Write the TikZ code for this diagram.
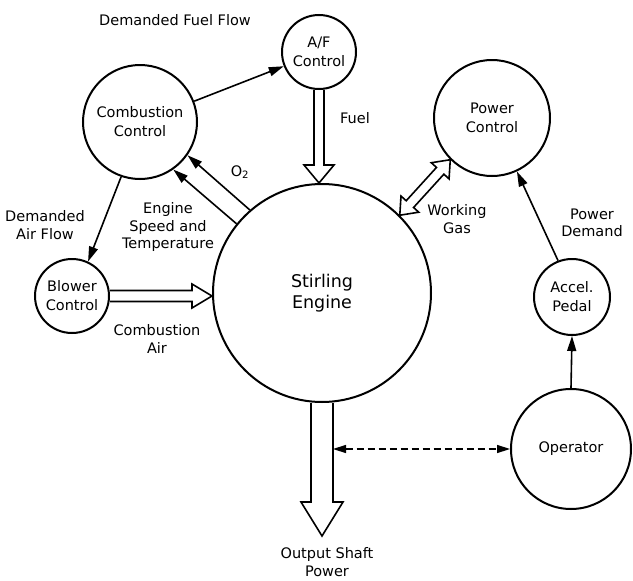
\documentclass[tikz,border=0pt]{standalone}
\usepackage{fontspec}
\setmainfont{DejaVu Sans}
\usetikzlibrary{calc,arrows.meta}
\newcommand{\FlowArrow}[5]{%
  \coordinate (fh) at ($(#2)!#5!(#1)$);
  \draw[line width=1.6pt] ($(#1)!#3!90:(#2)$) -- ($(fh)!#3!90:(#2)$) -- ($(fh)!#4!90:(#2)$) -- (#2)
    -- ($(fh)!#4!-90:(#2)$) -- ($(fh)!#3!-90:(#2)$) -- ($(#1)!#3!-90:(#2)$);}
\newcommand{\TwoWayArrow}[5]{%
  \coordinate (fa) at ($(#1)!#5!(#2)$);
  \coordinate (fb) at ($(#2)!#5!(#1)$);
  \draw[line width=1.6pt] (#1) -- ($(fa)!#4!90:(#2)$) -- ($(fa)!#3!90:(#2)$) -- ($(fb)!#3!90:(#2)$) -- ($(fb)!#4!90:(#2)$) -- (#2)
    -- ($(fb)!#4!-90:(#2)$) -- ($(fb)!#3!-90:(#2)$) -- ($(fa)!#3!-90:(#2)$) -- ($(fa)!#4!-90:(#2)$) -- cycle;}

\begin{document}
\begin{tikzpicture}[x=1pt,y=-1pt,
  ctrl/.style={circle,draw,line width=2pt,inner sep=0pt,align=center,font=\fontsize{14.5}{19}\selectfont},
  tag/.style={align=center,inner sep=0pt,font=\fontsize{14.5}{17.5}\selectfont},
  sig/.style={line width=1.6pt,-{Triangle[length=15pt,width=9pt]}}]
\useasboundingbox (0,0) rectangle (633,581);
\node[ctrl,minimum size=218pt,font=\fontsize{17.5}{21}\selectfont] (se) at (322,293) {Stirling\\Engine};
\node[ctrl,minimum size=114pt] (cc) at (140,122) {Combustion\\Control};
\node[ctrl,minimum size=74pt] (af) at (319,52) {A/F\\Control};
\node[ctrl,minimum size=116pt] (pc) at (492,118) {Power\\Control};
\node[ctrl,minimum size=74pt] (bc) at (72,296) {Blower\\Control};
\node[ctrl,minimum size=76pt] (ap) at (572,297) {Accel.\\Pedal};
\node[ctrl,minimum size=120pt] (op) at (571,449) {Operator};

\draw[sig] (cc.21) -- (af.202);
\draw[sig] (cc.251) -- (bc.65);
\draw[sig] (se.131) -- (cc.-35);
\draw[sig] (se.141) -- (cc.-55);
\draw[sig] (ap.111) -- (pc.-65);
\draw[sig] (op.north) -- (ap.south);

\coordinate (fueltip) at (af.south |- se.north);
\FlowArrow{af.south}{fueltip}{5pt}{15pt}{18pt}
\coordinate (airtip) at (se.west |- bc.east);
\FlowArrow{bc.east}{airtip}{5.5pt}{12pt}{20pt}
\coordinate (shafttip) at ($(se.south)+(0,133)$);
\FlowArrow{se.south}{shafttip}{11pt}{21pt}{34pt}
\TwoWayArrow{se.45}{pc.225}{5pt}{12pt}{15pt}
\coordinate (shaftside) at ($(se.south)+(11,0)$);
\draw[line width=1.5pt,dash pattern=on 7pt off 4pt,{Triangle[length=13pt,width=8pt]}-{Triangle[length=13pt,width=8pt]}] (shaftside |- op.west) -- (op.west);

\node[tag] (lfuelflow) at (175,20) {Demanded Fuel Flow};
\node[tag] (lfuel) at (355,118) {Fuel};
\node[tag] (lo2) at (240,172) {O\textsubscript{2}};
\node[tag] (lspeed) at (168,227) {Engine\\Speed and\\Temperature};
\node[tag] (lairflow) at (45,225) {Demanded\\Air Flow};
\node[tag] (lair) at (157,339) {Combustion\\Air};
\node[tag] (lgas) at (457,219) {Working\\Gas};
\node[tag] (ldemand) at (592,223) {Power\\Demand};
\node[tag] (lout) at (327,562) {Output Shaft\\Power};
\end{tikzpicture}
\end{document}
